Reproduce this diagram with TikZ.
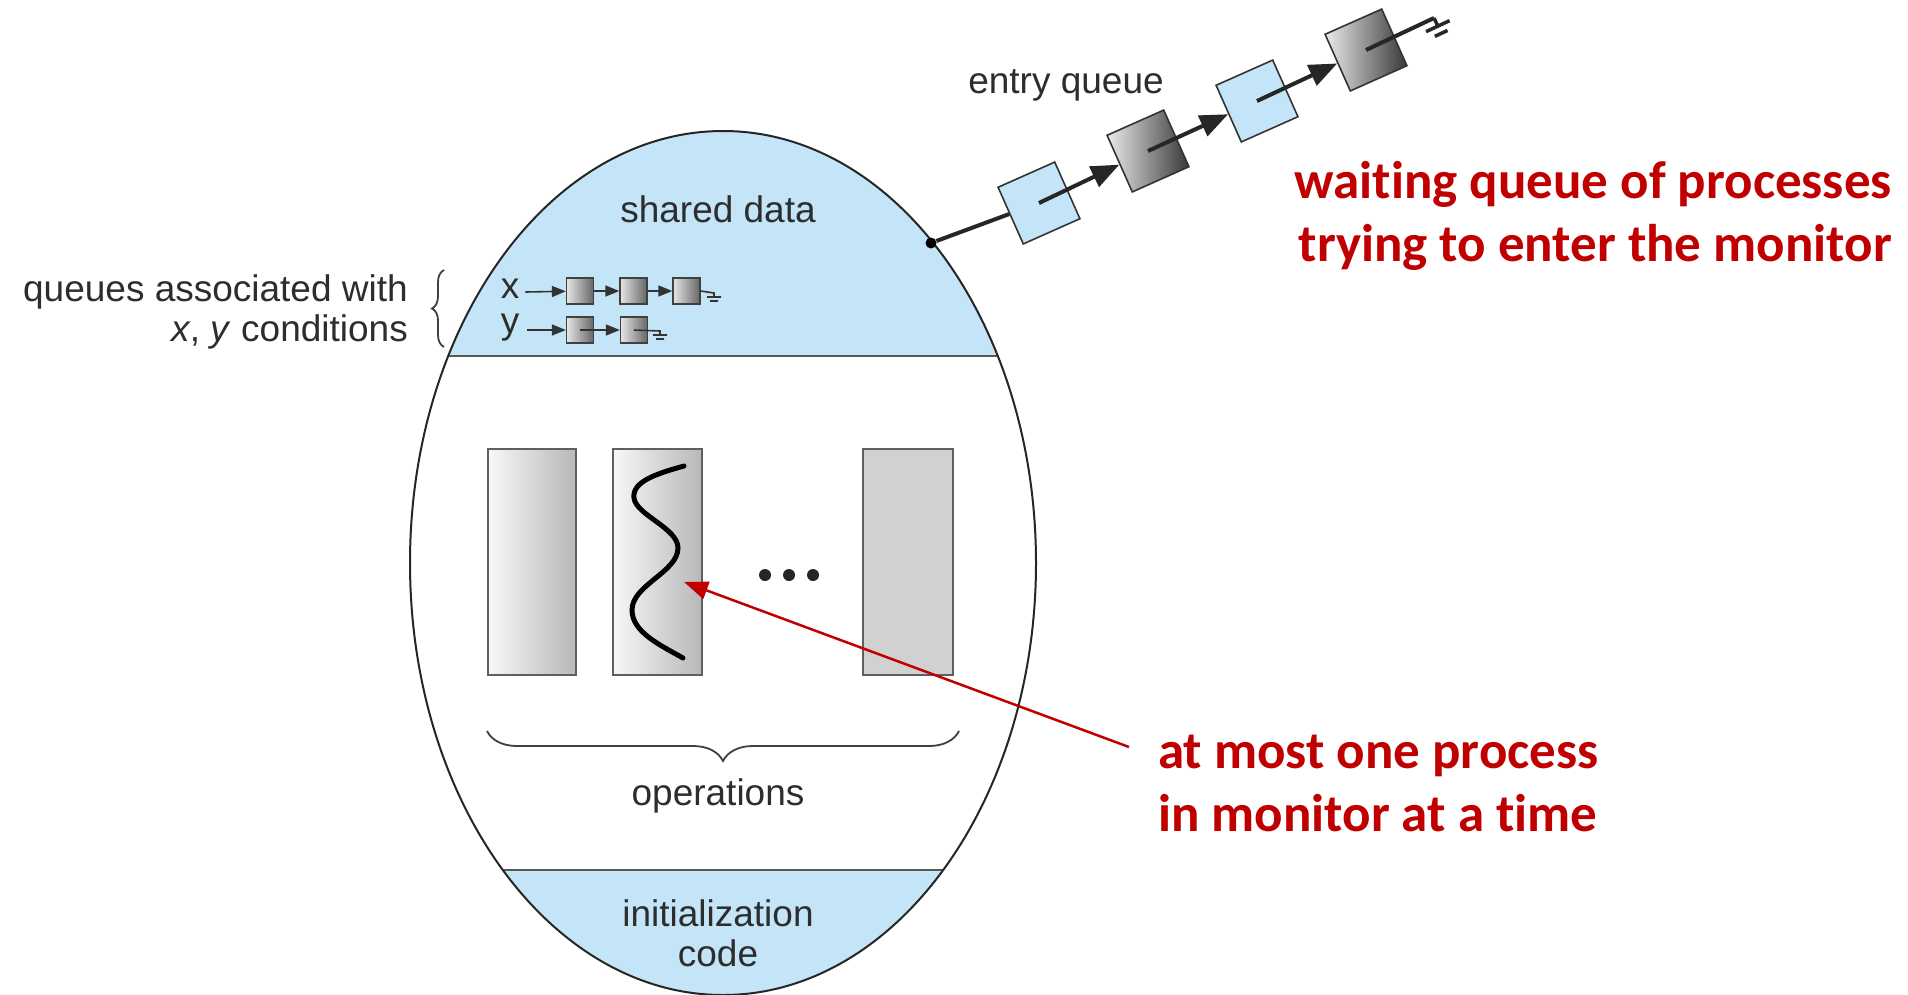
\documentclass[tikz,border=0pt]{standalone}
\usepackage{fontspec}
\setmainfont{Liberation Sans}
\newfontfamily\redfont[Ligatures=NoCommon]{Carlito}
\usetikzlibrary{arrows.meta,decorations.pathreplacing,calc}
\definecolor{lblue}{RGB}{196,229,247}
\definecolor{txtgray}{RGB}{45,45,45}
\definecolor{redc}{RGB}{192,0,0}
\definecolor{edgegray}{RGB}{95,95,95}
\tikzset{
  lbl/.style={text=txtgray, font=\fontsize{37}{40}\selectfont, inner sep=0pt},
  redlbl/.style={text=redc, font=\redfont\bfseries\fontsize{53}{63}\selectfont, inner sep=0pt},
  oprect/.style={draw=edgegray, line width=2pt, minimum height=226pt, inner sep=0pt},
  opshade/.style={oprect, left color=black!3, right color=black!28},
  opflat/.style={oprect, fill=black!18},
  sq/.style={draw=black!75, line width=1.3pt, minimum width=27pt, minimum height=26pt, inner sep=0pt, left color=black!10, right color=black!60},
  qline/.style={line width=1.6pt, black!80},
  qarrow/.style={qline, -{Triangle[length=14pt,width=11pt]}},
  esqL/.style={draw=black!80, line width=1.6pt, minimum size=62pt, inner sep=0pt, fill=lblue},
  esqD/.style={draw=black!80, line width=1.6pt, minimum size=62pt, inner sep=0pt, left color=black!8, right color=black!78},
  eline/.style={line width=4pt, black!85},
  earrow/.style={eline, -{Triangle[length=28pt,width=22pt]}},
  redarrow/.style={draw=redc, line width=2.5pt, -{Triangle[length=24pt,width=18pt]}},
  dotst/.style={circle, fill=black, inner sep=0pt, minimum size=11pt},
  brc/.style={draw=black!75, line width=1.8pt, decorate},
}
\begin{document}
\begin{tikzpicture}[x=1pt,y=-1pt]
\useasboundingbox (0,0) rectangle (1908,994);
\fill[white] (0,0) rectangle (1908,994);

% monitor ellipse
\begin{scope}
  \clip (723,563) ellipse [x radius=313, y radius=432];
  \fill[lblue] (380,100) rectangle (1060,356);
  \fill[lblue] (380,870) rectangle (1060,1010);
  \draw[line width=2pt, black!65] (380,356) -- (1060,356);
  \draw[line width=2pt, black!65] (380,870) -- (1060,870);
\end{scope}
\draw[line width=2pt, black!85] (723,563) ellipse [x radius=313, y radius=432];

% texts in monitor
\node[lbl] (shared) at (718,209) {shared data};
\node[lbl] (ops) at (718,796) {operations};
\node[lbl, align=center] (init) at (718,933) {initialization\\code};

% operations rectangles
\node[opshade, minimum width=88pt] (r1) at (532,562) {};
\node[opshade, minimum width=89pt] (r2) at (657.5,562) {};
\node[opflat, minimum width=90pt] (r3) at (908,562) {};
\draw[line width=5pt, line cap=round] (684,466) .. controls (655,474) and (632,482) .. (634,498)
  .. controls (636,515) and (678,528) .. (678,548)
  .. controls (678,572) and (632,585) .. (632,610)
  .. controls (632,632) and (660,645) .. (683,658);
\coordinate (wavept) at (684,582);
\fill[black!85] (765,575) circle (6pt) (789,575) circle (6pt) (813,575) circle (6pt);

% brace under operations
\draw[brc, decoration={brace, amplitude=30pt, aspect=0.5}] (959,731) -- (487,731);

% condition queues
\node[lbl] (xl) at (510,289) {x};
\node[lbl] (yl) at (510,328) {y};
\node[sq] (x1) at (580,291) {};
\node[sq] (x2) at (633.5,291) {};
\node[sq] (x3) at (686.5,291) {};
\node[sq] (y1) at (580,330) {};
\node[sq] (y2) at (634,330) {};
\draw[qarrow] ($(xl.east)+(6,3)$) -- (x1);
\draw[qarrow] (x1.east) -- (x2);
\draw[qarrow] (x2.east) -- (x3);
\coordinate (xg) at (714,293);
\draw[qline] (x3.east) -- (xg) -- ++(0,4) (xg)++(-7,4) -- ++(14,0) (xg)++(-4,8) -- ++(8,0);
\draw[qarrow] ($(yl.east)+(8,2)$) -- (y1);
\draw[qarrow] (y1.center) -- (y2);
\coordinate (yg) at (660,331);
\draw[qline] (y2.center) -- (yg) -- ++(0,4) (yg)++(-7,4) -- ++(14,0) (yg)++(-4,8) -- ++(8,0);

% left label with brace
\node[lbl, align=right, anchor=east] (qlbl) at (408,312) {queues associated with\\\textit{x}, \textit{y} conditions};
\draw[brc, decoration={brace, amplitude=12pt}] (444,347) -- (444,270);

% entry queue
\node[dotst] (dot) at (931,243) {};
\node[esqL, rotate=24] (e1) at (1039,203) {};
\node[esqD, rotate=24] (e2) at (1148,151) {};
\node[esqL, rotate=24] (e3) at (1257,101) {};
\node[esqD, rotate=24] (e4) at (1366,50) {};
\draw[eline] (dot) -- (e1);
\draw[earrow] (e1.center) -- (e2);
\draw[earrow] (e2.center) -- (e3);
\draw[earrow] (e3.center) -- (e4);
\coordinate (eg) at (1434,18);
\draw[eline] (e4.center) -- (eg);
\begin{scope}[shift={(eg)}, rotate=25]
  \draw[line width=3.5pt, black!85] (0,0) -- (0,9) (-13,9) -- (13,9) (-7,17) -- (7,17);
\end{scope}
\node[lbl] (entry) at (1066,85) {entry queue};

% red annotations
\node[redlbl, align=right, anchor=east] (wq) at (1892,216) {waiting queue of processes\\trying to enter the monitor};
\node[redlbl, align=left, anchor=west] (mon) at (1158,783) {at most one process\\in monitor at a time};
\coordinate (astart) at (1129,747);
\draw[redarrow] (astart) -- (wavept);
\end{tikzpicture}
\end{document}
